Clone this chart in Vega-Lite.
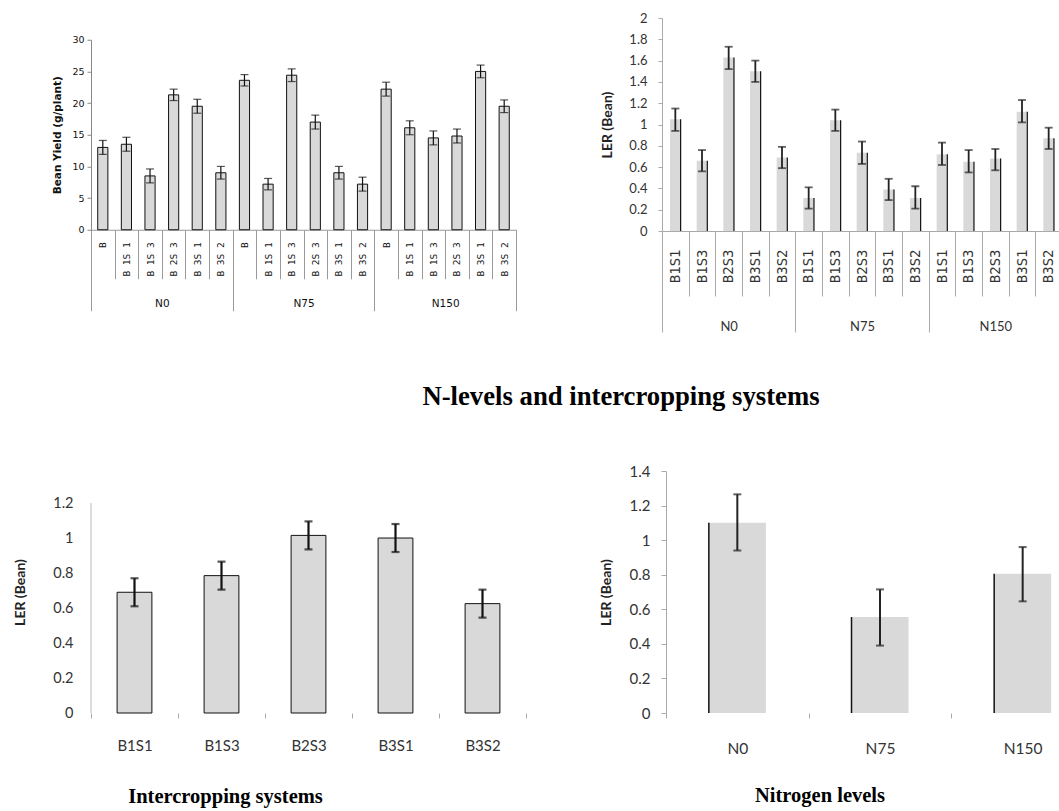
{
  "$schema": "https://vega.github.io/schema/vega-lite/v6.json",
  "padding": {"left": 13, "top": 12, "right": 0, "bottom": 0},
  "config": {"view": {"stroke": null}, "axis": {"grid": false, "labelOverlap": false}},
  "datasets": {
    "yield": [
      {"N": "N0", "key": "N0|B", "v": 13.0, "lo": 11.9, "hi": 14.1},
      {"N": "N0", "key": "N0|B 1S 1", "v": 13.5, "lo": 12.4, "hi": 14.6},
      {"N": "N0", "key": "N0|B 1S 3", "v": 8.5, "lo": 7.4, "hi": 9.6},
      {"N": "N0", "key": "N0|B 2S 3", "v": 21.3, "lo": 20.4, "hi": 22.2},
      {"N": "N0", "key": "N0|B 3S 1", "v": 19.5, "lo": 18.4, "hi": 20.6},
      {"N": "N0", "key": "N0|B 3S 2", "v": 9.0, "lo": 8.0, "hi": 10.0},
      {"N": "N75", "key": "N75|B", "v": 23.6, "lo": 22.7, "hi": 24.5},
      {"N": "N75", "key": "N75|B 1S 1", "v": 7.2, "lo": 6.3, "hi": 8.1},
      {"N": "N75", "key": "N75|B 1S 3", "v": 24.4, "lo": 23.4, "hi": 25.4},
      {"N": "N75", "key": "N75|B 2S 3", "v": 17.0, "lo": 15.9, "hi": 18.1},
      {"N": "N75", "key": "N75|B 3S 1", "v": 9.0, "lo": 8.0, "hi": 10.0},
      {"N": "N75", "key": "N75|B 3S 2", "v": 7.2, "lo": 6.1, "hi": 8.3},
      {"N": "N150", "key": "N150|B", "v": 22.2, "lo": 21.1, "hi": 23.3},
      {"N": "N150", "key": "N150|B 1S 1", "v": 16.1, "lo": 15.0, "hi": 17.2},
      {"N": "N150", "key": "N150|B 1S 3", "v": 14.5, "lo": 13.4, "hi": 15.6},
      {"N": "N150", "key": "N150|B 2S 3", "v": 14.8, "lo": 13.7, "hi": 15.9},
      {"N": "N150", "key": "N150|B 3S 1", "v": 25.0, "lo": 24.0, "hi": 26.0},
      {"N": "N150", "key": "N150|B 3S 2", "v": 19.5, "lo": 18.5, "hi": 20.5}
    ],
    "ler": [
      {"N": "N0", "key": "N0|B1S1", "v": 1.05, "lo": 0.94, "hi": 1.15},
      {"N": "N0", "key": "N0|B1S3", "v": 0.66, "lo": 0.56, "hi": 0.76},
      {"N": "N0", "key": "N0|B2S3", "v": 1.63, "lo": 1.52, "hi": 1.73},
      {"N": "N0", "key": "N0|B3S1", "v": 1.5, "lo": 1.4, "hi": 1.6},
      {"N": "N0", "key": "N0|B3S2", "v": 0.69, "lo": 0.59, "hi": 0.79},
      {"N": "N75", "key": "N75|B1S1", "v": 0.31, "lo": 0.21, "hi": 0.41},
      {"N": "N75", "key": "N75|B1S3", "v": 1.04, "lo": 0.94, "hi": 1.14},
      {"N": "N75", "key": "N75|B2S3", "v": 0.735, "lo": 0.63, "hi": 0.84},
      {"N": "N75", "key": "N75|B3S1", "v": 0.39, "lo": 0.29, "hi": 0.49},
      {"N": "N75", "key": "N75|B3S2", "v": 0.31, "lo": 0.21, "hi": 0.42},
      {"N": "N150", "key": "N150|B1S1", "v": 0.72, "lo": 0.62, "hi": 0.83},
      {"N": "N150", "key": "N150|B1S3", "v": 0.65, "lo": 0.55, "hi": 0.76},
      {"N": "N150", "key": "N150|B2S3", "v": 0.68, "lo": 0.57, "hi": 0.77},
      {"N": "N150", "key": "N150|B3S1", "v": 1.12, "lo": 1.02, "hi": 1.23},
      {"N": "N150", "key": "N150|B3S2", "v": 0.87, "lo": 0.77, "hi": 0.97}
    ],
    "sys": [
      {"S": "B1S1", "v": 0.69, "lo": 0.61, "hi": 0.77},
      {"S": "B1S3", "v": 0.785, "lo": 0.705, "hi": 0.865},
      {"S": "B2S3", "v": 1.015, "lo": 0.935, "hi": 1.095},
      {"S": "B3S1", "v": 1.0, "lo": 0.92, "hi": 1.08},
      {"S": "B3S2", "v": 0.625, "lo": 0.545, "hi": 0.705}
    ],
    "nlev": [
      {"N": "N0", "v": 1.1, "lo": 0.94, "hi": 1.265},
      {"N": "N75", "v": 0.555, "lo": 0.39, "hi": 0.715},
      {"N": "N150", "v": 0.805, "lo": 0.646, "hi": 0.96}
    ]
  },
  "spacing": 20,
  "vconcat": [
    {
      "spacing": 83,
      "center": true,
      "hconcat": [
        {
          "width": 425, "height": 190,
          "data": {"name": "yield"},
          "layer": [
            {
              "layer": [
                {"mark": {"type": "bar", "fill": "#d9d9d9", "stroke": "#111", "strokeWidth": 1, "width": {"band": 0.43}},
                 "encoding": {
                   "x": {"field": "key", "type": "nominal", "sort": null, "scale": {"paddingInner": 0, "paddingOuter": 0},
                         "axis": {"title": null, "labelExpr": "split(datum.label, '|')[1]", "labelAngle": -90, "tickBand": "extent", "tickSize": 49, "labelPadding": -37, "tickColor": "#999", "domainColor": "#999", "labelFont": "DejaVu Sans Mono", "labelFontSize": 9.5, "labelColor": "#111"}},
                   "y": {"field": "v", "type": "quantitative", "scale": {"domain": [0, 30]},
                         "axis": {"title": "Bean Yield (g/plant)", "values": [0, 5, 10, 15, 20, 25, 30], "tickCount": 40, "labelOverlap": false, "tickSize": 4, "tickColor": "#888", "domainColor": "#888", "labelFont": "DejaVu Sans", "labelFontSize": 9.5, "labelColor": "#111", "labelPadding": 3, "titleFont": "DejaVu Sans", "titleFontSize": 10.5, "titleFontWeight": "bold", "titleColor": "#111", "titlePadding": 9}}
                 }},
                {"mark": {"type": "rule", "color": "#111", "strokeWidth": 1.2},
                 "encoding": {"x": {"field": "key", "type": "nominal", "sort": null}, "y": {"field": "lo", "type": "quantitative"}, "y2": {"field": "hi"}}},
                {"mark": {"type": "tick", "color": "#111", "size": 8, "thickness": 1.2},
                 "encoding": {"x": {"field": "key", "type": "nominal", "sort": null}, "y": {"field": "lo", "type": "quantitative"}}},
                {"mark": {"type": "tick", "color": "#111", "size": 8, "thickness": 1.2},
                 "encoding": {"x": {"field": "key", "type": "nominal", "sort": null}, "y": {"field": "hi", "type": "quantitative"}}}
              ]
            },
            {"mark": {"type": "point", "opacity": 0},
             "encoding": {
               "x": {"field": "N", "type": "nominal", "sort": null, "scale": {"paddingInner": 0, "paddingOuter": 0},
                     "axis": {"orient": "bottom", "title": null, "labelAngle": 0, "tickBand": "extent", "tickSize": 81, "labelPadding": -12, "domain": false, "tickColor": "#999", "labelFont": "DejaVu Sans", "labelFontSize": 10.5, "labelColor": "#111"}},
               "y": {"field": "v", "type": "quantitative"}
             }}
          ],
          "resolve": {"scale": {"x": "independent"}}
        },
        {
          "width": 400, "height": 213,
          "data": {"name": "ler"},
          "layer": [
            {
              "layer": [
                {"mark": {"type": "bar", "fill": "#d9d9d9", "width": {"band": 0.4}},
                 "encoding": {
                   "x": {"field": "key", "type": "nominal", "sort": null, "scale": {"paddingInner": 0, "paddingOuter": 0},
                         "axis": {"title": null, "labelExpr": "split(datum.label, '|')[1]", "labelAngle": -90, "tickBand": "extent", "tickSize": 65, "labelPadding": -47, "tickColor": "#aaa", "domainColor": "#aaa", "labelFont": "DejaVu Sans Mono", "labelFontSize": 14, "labelColor": "#333"}},
                   "y": {"field": "v", "type": "quantitative", "scale": {"domain": [0, 2]},
                         "axis": {"title": "LER (Bean)", "values": [0, 0.2, 0.4, 0.6, 0.8, 1, 1.2, 1.4, 1.6, 1.8, 2], "tickCount": 40, "labelOverlap": false, "format": "~g", "tickSize": 4, "tickColor": "#aaa", "domainColor": "#aaa", "labelFont": "Lato", "labelFontSize": 13, "labelColor": "#333", "labelPadding": 11, "titleFont": "Lato", "titleFontSize": 14, "titleFontWeight": "bold", "titleColor": "#222", "titlePadding": 14}}
                 }},
                {"mark": {"type": "rule", "color": "#111", "strokeWidth": 1.2, "xOffset": 5.3},
                 "encoding": {"x": {"field": "key", "type": "nominal", "sort": null}, "y": {"field": "v", "type": "quantitative"}, "y2": {"datum": 0}}},
                {"mark": {"type": "rule", "color": "#222", "strokeWidth": 1.8},
                 "encoding": {"x": {"field": "key", "type": "nominal", "sort": null}, "y": {"field": "lo", "type": "quantitative"}, "y2": {"field": "hi"}}},
                {"mark": {"type": "tick", "color": "#222", "size": 8, "thickness": 1.8},
                 "encoding": {"x": {"field": "key", "type": "nominal", "sort": null}, "y": {"field": "lo", "type": "quantitative"}}},
                {"mark": {"type": "tick", "color": "#222", "size": 8, "thickness": 1.8},
                 "encoding": {"x": {"field": "key", "type": "nominal", "sort": null}, "y": {"field": "hi", "type": "quantitative"}}}
              ]
            },
            {"mark": {"type": "point", "opacity": 0},
             "encoding": {
               "x": {"field": "N", "type": "nominal", "sort": null, "scale": {"paddingInner": 0, "paddingOuter": 0},
                     "axis": {"orient": "bottom", "title": null, "labelAngle": 0, "tickBand": "extent", "tickSize": 101, "labelPadding": -12, "domain": false, "tickColor": "#aaa", "labelFont": "Lato", "labelFontSize": 13, "labelColor": "#333"}},
               "y": {"field": "v", "type": "quantitative"}
             }}
          ],
          "resolve": {"scale": {"x": "independent"}}
        }
      ]
    },
    {
      "width": 1060, "height": 91,
      "data": {"values": [{"t": "N-levels and intercropping systems"}]},
      "mark": {"type": "text", "font": "Liberation Serif", "fontSize": 26.7, "fontWeight": "bold", "color": "#000", "baseline": "alphabetic", "dy": 6},
      "encoding": {"text": {"field": "t", "type": "nominal"}}
    },
    {
      "spacing": 72,
      "hconcat": [
        {
          "width": 435, "height": 242,
          "data": {"name": "sys"},
          "title": {"text": "Intercropping systems", "orient": "bottom", "anchor": "middle", "frame": "group", "baseline": "top", "font": "Liberation Serif", "fontSize": 20.5, "fontWeight": "bold", "color": "#000", "offset": 34, "dx": -83},
          "layer": [
            {"mark": {"type": "bar", "fill": "#d9d9d9", "stroke": "#111", "strokeWidth": 1, "width": {"band": 0.4}},
             "encoding": {
               "x": {"field": "S", "type": "nominal", "sort": null, "scale": {"paddingInner": 0, "paddingOuter": 0},
                     "axis": {"title": null, "labelAngle": 0, "tickBand": "extent", "tickSize": 5, "tickColor": "#aaa", "domain": false, "labelPadding": 20, "labelFont": "Lato", "labelFontSize": 15, "labelColor": "#333"}},
               "y": {"field": "v", "type": "quantitative", "scale": {"domain": [0, 1.383], "nice": false},
                     "axis": {"title": "LER (Bean)", "values": [0, 0.2, 0.4, 0.6, 0.8, 1, 1.2], "tickCount": 40, "labelOverlap": false, "format": "~g", "ticks": false, "domain": false, "labelFont": "Lato", "labelFontSize": 14.5, "labelColor": "#333", "labelPadding": 18, "titleFont": "Lato", "titleFontSize": 14, "titleFontWeight": "bold", "titleColor": "#222", "titlePadding": 25}}
             }},
            {"transform": [{"filter": {"field": "S", "equal": "B1S1"}}],
             "mark": {"type": "rule", "color": "#bbb", "strokeWidth": 1},
             "encoding": {"x": {"field": "S", "type": "nominal", "sort": null, "bandPosition": 0}, "y": {"datum": 0, "type": "quantitative"}, "y2": {"datum": 1.2}}},
            {"mark": {"type": "rule", "color": "#111", "strokeWidth": 2.2},
             "encoding": {"x": {"field": "S", "type": "nominal", "sort": null}, "y": {"field": "lo", "type": "quantitative"}, "y2": {"field": "hi"}}},
            {"mark": {"type": "tick", "color": "#111", "size": 8, "thickness": 2.2},
             "encoding": {"x": {"field": "S", "type": "nominal", "sort": null}, "y": {"field": "lo", "type": "quantitative"}}},
            {"mark": {"type": "tick", "color": "#111", "size": 8, "thickness": 2.2},
             "encoding": {"x": {"field": "S", "type": "nominal", "sort": null}, "y": {"field": "hi", "type": "quantitative"}}}
          ]
        },
        {
          "width": 428, "height": 242,
          "data": {"name": "nlev"},
          "title": {"text": "Nitrogen levels", "orient": "bottom", "anchor": "middle", "frame": "group", "baseline": "top", "font": "Liberation Serif", "fontSize": 20.5, "fontWeight": "bold", "color": "#000", "offset": 29, "dx": -60},
          "layer": [
            {"mark": {"type": "bar", "fill": "#d9d9d9", "width": {"band": 0.4}},
             "encoding": {
               "x": {"field": "N", "type": "nominal", "sort": null, "scale": {"paddingInner": 0, "paddingOuter": 0},
                     "axis": {"title": null, "labelAngle": 0, "tickBand": "extent", "tickSize": 5, "tickColor": "#aaa", "domain": false, "labelPadding": 23, "labelFont": "Lato", "labelFontSize": 15.5, "labelColor": "#333"}},
               "y": {"field": "v", "type": "quantitative", "scale": {"domain": [0, 1.4]},
                     "axis": {"title": "LER (Bean)", "values": [0, 0.2, 0.4, 0.6, 0.8, 1, 1.2, 1.4], "tickCount": 40, "labelOverlap": false, "format": "~g", "tickSize": 5, "tickColor": "#aaa", "domainColor": "#aaa", "labelFont": "Lato", "labelFontSize": 15, "labelColor": "#333", "labelPadding": 11, "titleFont": "Lato", "titleFontSize": 14, "titleFontWeight": "bold", "titleColor": "#222", "titlePadding": 16}}
             }},
            {"mark": {"type": "rule", "color": "#111", "strokeWidth": 1.5, "xOffset": -28.5},
             "encoding": {"x": {"field": "N", "type": "nominal", "sort": null}, "y": {"field": "v", "type": "quantitative"}, "y2": {"datum": 0}}},
            {"mark": {"type": "rule", "color": "#222", "strokeWidth": 2},
             "encoding": {"x": {"field": "N", "type": "nominal", "sort": null}, "y": {"field": "lo", "type": "quantitative"}, "y2": {"field": "hi"}}},
            {"mark": {"type": "tick", "color": "#222", "size": 8, "thickness": 2},
             "encoding": {"x": {"field": "N", "type": "nominal", "sort": null}, "y": {"field": "lo", "type": "quantitative"}}},
            {"mark": {"type": "tick", "color": "#222", "size": 8, "thickness": 2},
             "encoding": {"x": {"field": "N", "type": "nominal", "sort": null}, "y": {"field": "hi", "type": "quantitative"}}}
          ]
        }
      ]
    }
  ]
}
